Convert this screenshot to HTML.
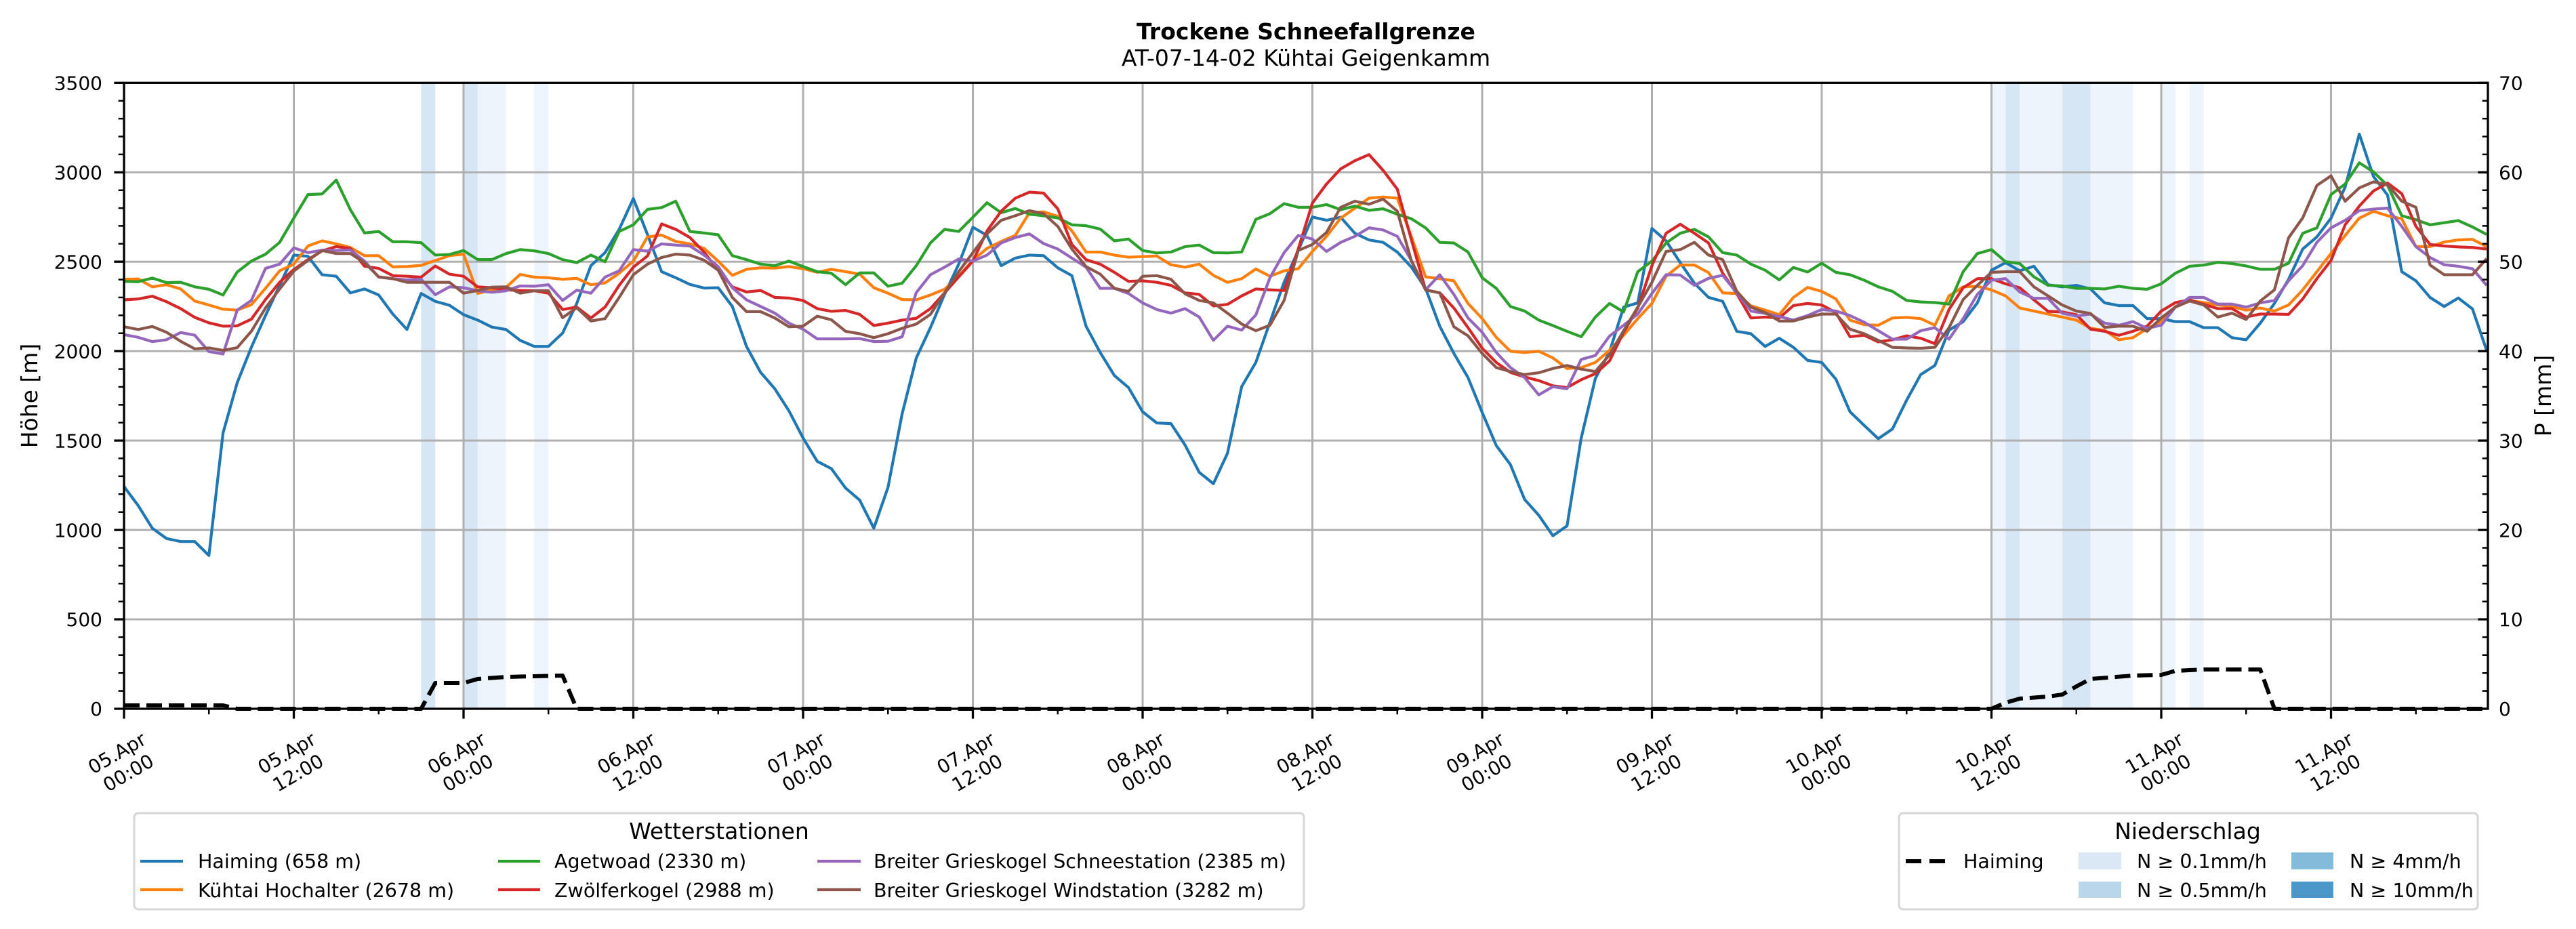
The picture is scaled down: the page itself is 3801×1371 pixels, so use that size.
<!DOCTYPE html>
<html>
<head>
<meta charset="utf-8">
<style>
  html, body { margin: 0; padding: 0; background: #ffffff; }
  body { width: 3801px; height: 1371px; overflow: hidden; }
  svg { display: block; }
  text { font-family: "DejaVu Sans", "Liberation Sans", sans-serif; fill: #000; }
</style>
</head>
<body>
<svg width="3801" height="1371" viewBox="0 0 3801 1371" xmlns="http://www.w3.org/2000/svg">
  <rect x="0" y="0" width="3801" height="1371" fill="#ffffff"/>

  <!-- Titles -->
  <text x="1927" y="58" font-size="33" font-weight="bold" text-anchor="middle">Trockene Schneefallgrenze</text>
  <text x="1927" y="97" font-size="33" text-anchor="middle">AT-07-14-02 Kühtai Geigenkamm</text>

  <!-- Precipitation spans -->
  <g fill="#edf4fb">
    <rect x="704.875" y="122.3" width="41.75" height="923.7"/>
    <rect x="788.375" y="122.3" width="20.875" height="923.7"/>
    <rect x="2938.5" y="122.3" width="20.875" height="923.7"/>
    <rect x="2980.25" y="122.3" width="62.625" height="923.7"/>
    <rect x="3084.625" y="122.3" width="62.625" height="923.7"/>
    <rect x="3189" y="122.3" width="20.875" height="923.7"/>
    <rect x="3230.75" y="122.3" width="20.875" height="923.7"/>
  </g>
  <g fill="#d7e6f4">
    <rect x="621.375" y="122.3" width="20.875" height="923.7"/>
    <rect x="684" y="122.3" width="20.875" height="923.7"/>
    <rect x="2959.375" y="122.3" width="20.875" height="923.7"/>
    <rect x="3042.875" y="122.3" width="41.75" height="923.7"/>
  </g>

  <!-- Grid -->
  <g stroke="#b0b0b0" stroke-width="3" fill="none">
    <path d="M183,914 H3671 M183,782.1 H3671 M183,650.1 H3671 M183,518.2 H3671 M183,386.2 H3671 M183,254.3 H3671"/>
    <path d="M433.5,122.3 V1046 M684,122.3 V1046 M934.5,122.3 V1046 M1185,122.3 V1046 M1435.5,122.3 V1046 M1686,122.3 V1046 M1936.5,122.3 V1046 M2187,122.3 V1046 M2437.5,122.3 V1046 M2688,122.3 V1046 M2938.5,122.3 V1046 M3189,122.3 V1046 M3439.5,122.3 V1046"/>
  </g>

  <!-- Series -->
  <g transform="translate(183,180) scale(20.875,0.446429)" fill="none" stroke-width="4.2" stroke-linejoin="round">
    <polyline vector-effect="non-scaling-stroke" stroke="#1f77b4" points="0,1205 1,1268 2,1343 3,1377 4,1387 5,1387 6,1433 7,1028 8,862 9,745 10,640 11,540 12,440 13,444 14,505 15,510 16,565 17,552 18,572 19,635 20,686 21,567 22,593 23,606 24,637 25,655 26,678 27,686 28,722 29,742 30,742 31,698 32,600 33,475 34,432 35,355 36,253 37,372 38,495 39,515 40,537 41,549 42,548 43,610 44,742 45,828 46,882 47,955 48,1045 49,1122 50,1146 51,1210 52,1250 53,1343 54,1208 55,965 56,780 57,680 58,570 59,470 60,348 61,375 62,475 63,450 64,440 65,442 66,482 67,508 68,675 69,762 70,838 71,878 72,958 73,995 74,997 75,1068 76,1158 77,1196 78,1095 79,875 80,795 81,662 82,530 83,425 84,314 85,325 86,315 87,368 88,390 89,398 90,430 91,480 92,550 93,675 94,765 95,845 96,960 97,1070 98,1133 99,1248 100,1300 101,1368 102,1335 103,1045 104,848 105,760 106,612 107,598 108,352 109,393 110,465 111,533 112,580 113,593 114,692 115,700 116,742 117,715 118,745 119,788 120,795 121,850 122,958 123,1003 124,1047 125,1015 126,920 127,835 128,805 129,688 130,660 131,598 132,490 133,465 134,492 135,477 136,538 137,545 138,540 139,552 140,598 141,607 142,607 143,650 144,650 145,660 146,660 147,680 148,680 149,713 150,720 151,665 152,600 153,520 154,420 155,380 156,318 157,215 158,40 159,180 160,242 161,495 162,525 163,580 164,610 165,582 166,618 167,755"/>
    <polyline vector-effect="non-scaling-stroke" stroke="#ff7f0e" points="0,520 1,519 2,545 3,538 4,552 5,592 6,605 7,619 8,622 9,604 10,550 11,492 12,470 13,410 14,393 15,403 16,415 17,442 18,442 19,479 20,478 21,474 22,458 23,442 24,437 25,567 26,555 27,547 28,504 29,513 30,515 31,520 32,517 33,538 34,532 35,500 36,460 37,380 38,374 39,395 40,403 41,418 42,460 43,507 44,487 45,482 46,483 47,478 48,485 49,497 50,487 51,495 52,503 53,548 54,566 55,587 56,588 57,572 58,553 59,510 60,457 61,418 62,395 63,375 64,300 65,297 66,312 67,360 68,430 69,430 70,440 71,447 72,445 73,443 74,472 75,480 76,470 77,507 78,530 79,518 80,486 81,510 82,492 83,485 84,428 85,378 86,318 87,285 88,252 89,248 90,252 91,380 92,512 93,518 94,525 95,600 96,650 97,712 98,758 99,762 100,758 101,780 102,815 103,812 104,795 105,755 106,705 107,650 108,600 109,510 110,473 111,473 112,498 113,565 114,567 115,608 116,622 117,637 118,580 119,547 120,560 121,585 122,655 123,670 124,672 125,648 126,646 127,650 128,672 129,575 130,545 131,543 132,555 133,575 134,615 135,625 136,635 137,645 138,655 139,682 140,689 141,720 142,713 143,683 144,660 145,610 146,590 147,597 148,605 149,610 150,622 151,615 152,625 153,605 154,555 155,495 156,435 157,375 158,318 159,295 160,310 161,320 162,412 163,412 164,397 165,390 166,388 167,412"/>
    <polyline vector-effect="non-scaling-stroke" stroke="#2ca02c" points="0,527 1,528 2,516 3,531 4,530 5,545 6,553 7,572 8,496 9,460 10,437 11,398 12,318 13,240 14,238 15,192 16,290 17,367 18,362 19,396 20,396 21,399 22,440 23,438 24,425 25,455 26,455 27,435 28,422 29,426 30,435 31,455 32,465 33,440 34,462 35,362 36,340 37,289 38,283 39,262 40,362 41,367 42,373 43,442 44,455 45,470 46,475 47,460 48,478 49,495 50,500 51,538 52,499 53,499 54,543 55,533 56,475 57,400 58,355 59,362 60,315 61,267 62,300 63,286 64,305 65,310 66,317 67,340 68,343 69,354 70,393 71,387 72,425 73,433 74,430 75,412 76,407 77,432 78,433 79,430 80,322 81,303 82,270 83,282 84,282 85,273 86,290 87,278 88,292 89,287 90,305 91,320 92,350 93,398 94,400 95,430 96,515 97,550 98,610 99,625 100,655 101,673 102,692 103,710 104,645 105,600 106,628 107,495 108,460 109,400 110,368 111,355 112,380 113,432 114,440 115,470 116,490 117,522 118,481 119,496 120,467 121,497 122,505 123,523 124,545 125,560 126,590 127,595 128,597 129,602 130,495 131,435 132,422 133,462 134,468 135,512 136,540 137,542 138,550 139,550 140,552 141,543 142,550 143,553 144,535 145,500 146,477 147,473 148,464 149,468 150,476 151,487 152,487 153,467 154,368 155,350 156,240 157,205 158,135 159,165 160,210 161,310 162,323 163,340 164,333 165,326 166,347 167,372"/>
    <polyline vector-effect="non-scaling-stroke" stroke="#d62728" points="0,588 1,585 2,576 3,594 4,617 5,646 6,664 7,675 8,674 9,652 10,587 11,530 12,488 13,455 14,426 15,412 16,418 17,477 18,484 19,508 20,510 21,513 22,476 23,503 24,510 25,545 26,548 27,555 28,557 29,558 30,566 31,620 32,612 33,648 34,612 35,540 36,480 37,443 38,337 39,355 40,382 41,430 42,490 43,545 44,562 45,557 46,580 47,582 48,590 49,617 50,626 51,623 52,636 53,673 54,665 55,655 56,649 57,617 58,565 59,512 60,460 61,360 62,295 63,252 64,232 65,235 66,287 67,405 68,455 69,470 70,497 71,527 72,525 73,530 74,540 75,565 76,570 77,608 78,603 79,575 80,552 81,555 82,557 83,420 84,268 85,205 86,155 87,128 88,108 89,160 90,222 91,390 92,555 93,565 94,615 95,680 96,748 97,795 98,828 99,843 100,855 101,872 102,878 103,852 104,832 105,790 106,695 107,615 108,475 109,368 110,338 111,368 112,400 113,500 114,568 115,648 116,645 117,648 118,607 119,600 120,605 121,630 122,710 123,705 124,727 125,720 126,707 127,715 128,733 129,620 130,548 131,518 132,518 133,535 134,548 135,588 136,626 137,628 138,637 139,685 140,692 141,705 142,692 143,675 144,625 145,597 146,588 147,603 148,617 149,617 150,645 151,635 152,635 153,636 154,585 155,518 156,458 157,340 158,278 159,228 160,202 161,237 162,345 163,405 164,410 165,413 166,415 167,420"/>
    <polyline vector-effect="non-scaling-stroke" stroke="#9467bd" points="0,703 1,712 2,726 3,720 4,696 5,705 6,759 7,767 8,622 9,590 10,484 11,470 12,416 13,432 14,424 15,425 16,423 17,460 18,513 19,518 20,522 21,520 22,571 23,545 24,548 25,558 26,563 27,558 28,542 29,543 30,538 31,590 32,556 33,566 34,513 35,492 36,422 37,427 38,403 39,407 40,410 41,440 42,478 43,548 44,588 45,610 46,632 47,665 48,685 49,717 50,717 51,717 52,716 53,726 54,725 55,710 56,564 57,505 58,480 59,453 60,460 61,440 62,400 63,382 64,370 65,402 66,420 67,450 68,480 69,550 70,550 71,567 72,598 73,620 74,632 75,617 76,645 77,722 78,675 79,688 80,638 81,515 82,432 83,375 84,387 85,428 86,398 87,378 88,350 89,357 90,378 91,458 92,555 93,505 94,570 95,648 96,695 97,762 98,812 99,845 100,902 101,875 102,882 103,785 104,772 105,708 106,672 107,635 108,567 109,505 110,506 111,540 112,517 113,507 114,565 115,625 116,633 117,643 118,655 119,640 120,620 121,625 122,640 123,662 124,690 125,718 126,718 127,690 128,680 129,718 130,650 131,570 132,523 133,518 134,562 135,583 136,583 137,632 138,642 139,635 140,665 141,672 142,660 143,682 144,672 145,612 146,580 147,580 148,602 149,602 150,612 151,598 152,590 153,525 154,475 155,398 156,350 157,325 158,293 159,288 160,285 161,345 162,412 163,448 164,472 165,477 166,485 167,540"/>
    <polyline vector-effect="non-scaling-stroke" stroke="#8c564b" points="0,677 1,686 2,676 3,695 4,725 5,750 6,747 7,755 8,746 9,692 10,615 11,552 12,493 13,458 14,425 15,435 16,435 17,465 18,512 19,518 20,530 21,530 22,530 23,530 24,566 25,557 26,546 27,545 28,566 29,558 30,558 31,647 32,614 33,658 34,650 35,580 36,505 37,470 38,448 39,437 40,440 41,457 42,490 43,580 44,627 45,627 46,648 47,677 48,675 49,642 50,654 51,692 52,700 53,713 54,700 55,682 56,668 57,636 58,565 59,495 60,432 61,370 62,325 63,310 64,293 65,303 66,345 67,420 68,478 69,503 70,550 71,560 72,510 73,508 74,520 75,568 76,590 77,598 78,632 79,668 80,690 81,672 82,590 83,425 84,405 85,365 86,282 87,262 88,272 89,255 90,295 91,460 92,555 93,565 94,677 95,707 96,765 97,812 98,825 99,835 100,829 101,815 102,805 103,817 104,825 105,770 106,690 107,612 108,530 109,428 110,422 111,398 112,440 113,455 114,560 115,612 116,630 117,658 118,658 119,645 120,635 121,635 122,685 123,700 124,722 125,745 126,747 127,748 128,745 129,680 130,587 131,540 132,497 133,495 134,495 135,545 136,575 137,605 138,625 139,633 140,679 141,675 142,675 143,692 144,648 145,612 146,592 147,605 148,645 149,632 150,653 151,592 152,555 153,383 154,317 155,210 156,178 157,262 158,218 159,198 160,207 161,262 162,282 163,473 164,505 165,505 166,505 167,452"/>
  </g>

  <!-- Haiming precipitation (dashed) -->
  <polyline fill="none" stroke="#000" stroke-width="6" stroke-dasharray="23 10" stroke-linejoin="round"
    points="183,1041 329.1,1041 350,1046 621.4,1046 642.25,1008 684,1008 704.9,1002 746.6,999 788.4,998 830.1,997 851,1046 2938.5,1046 2959.4,1037 2980.25,1031 3022,1028 3042.9,1025 3063.75,1013 3084.6,1002 3147.25,997 3189,996 3209.9,990 3251.6,988 3335.1,988 3356,1046 3669.1,1046"/>

  <!-- Spines -->
  <rect x="183" y="122.3" width="3488" height="923.7" fill="none" stroke="#000" stroke-width="3.3"/>

  <!-- Ticks -->
  <g stroke="#000" fill="none">
    <!-- left major -->
    <path stroke-width="3.3" d="M168.4,1046 h14.6 M168.4,914 h14.6 M168.4,782.1 h14.6 M168.4,650.1 h14.6 M168.4,518.2 h14.6 M168.4,386.2 h14.6 M168.4,254.3 h14.6 M168.4,122.3 h14.6"/>
    <!-- left minor -->
    <path stroke-width="2.5" d="M174.7,1019.6 h8.3 M174.7,993.2 h8.3 M174.7,966.8 h8.3 M174.7,940.4 h8.3 M174.7,887.7 h8.3 M174.7,861.3 h8.3 M174.7,834.9 h8.3 M174.7,808.5 h8.3 M174.7,755.7 h8.3 M174.7,729.3 h8.3 M174.7,702.9 h8.3 M174.7,676.5 h8.3 M174.7,623.7 h8.3 M174.7,597.4 h8.3 M174.7,571 h8.3 M174.7,544.6 h8.3 M174.7,491.8 h8.3 M174.7,465.4 h8.3 M174.7,439 h8.3 M174.7,412.6 h8.3 M174.7,359.8 h8.3 M174.7,333.4 h8.3 M174.7,307.1 h8.3 M174.7,280.7 h8.3 M174.7,227.9 h8.3 M174.7,201.5 h8.3 M174.7,175.1 h8.3 M174.7,148.7 h8.3"/>
    <!-- right major (inward) -->
    <path stroke-width="3.3" d="M3671,1046 h-14.6 M3671,914 h-14.6 M3671,782.1 h-14.6 M3671,650.1 h-14.6 M3671,518.2 h-14.6 M3671,386.2 h-14.6 M3671,254.3 h-14.6 M3671,122.3 h-14.6"/>
    <!-- right minor (inward) -->
    <path stroke-width="2.5" d="M3671,1019.6 h-8.3 M3671,993.2 h-8.3 M3671,966.8 h-8.3 M3671,940.4 h-8.3 M3671,887.7 h-8.3 M3671,861.3 h-8.3 M3671,834.9 h-8.3 M3671,808.5 h-8.3 M3671,755.7 h-8.3 M3671,729.3 h-8.3 M3671,702.9 h-8.3 M3671,676.5 h-8.3 M3671,623.7 h-8.3 M3671,597.4 h-8.3 M3671,571 h-8.3 M3671,544.6 h-8.3 M3671,491.8 h-8.3 M3671,465.4 h-8.3 M3671,439 h-8.3 M3671,412.6 h-8.3 M3671,359.8 h-8.3 M3671,333.4 h-8.3 M3671,307.1 h-8.3 M3671,280.7 h-8.3 M3671,227.9 h-8.3 M3671,201.5 h-8.3 M3671,175.1 h-8.3 M3671,148.7 h-8.3"/>
    <!-- x major -->
    <path stroke-width="3.3" d="M183,1046 v14.6 M433.5,1046 v14.6 M684,1046 v14.6 M934.5,1046 v14.6 M1185,1046 v14.6 M1435.5,1046 v14.6 M1686,1046 v14.6 M1936.5,1046 v14.6 M2187,1046 v14.6 M2437.5,1046 v14.6 M2688,1046 v14.6 M2938.5,1046 v14.6 M3189,1046 v14.6 M3439.5,1046 v14.6"/>
    <!-- x minor -->
    <path stroke-width="2.5" d="M308.25,1046 v8.3 M558.75,1046 v8.3 M809.25,1046 v8.3 M1059.75,1046 v8.3 M1310.25,1046 v8.3 M1560.75,1046 v8.3 M1811.25,1046 v8.3 M2061.75,1046 v8.3 M2312.25,1046 v8.3 M2562.75,1046 v8.3 M2813.25,1046 v8.3 M3063.75,1046 v8.3 M3314.25,1046 v8.3 M3564.75,1046 v8.3"/>
  </g>

  <!-- Left tick labels -->
  <g font-size="28" text-anchor="end">
    <text x="151" y="1056.2">0</text>
    <text x="151" y="924.2">500</text>
    <text x="151" y="792.3">1000</text>
    <text x="151" y="660.3">1500</text>
    <text x="151" y="528.4">2000</text>
    <text x="151" y="396.4">2500</text>
    <text x="151" y="264.5">3000</text>
    <text x="151" y="132.5">3500</text>
  </g>
  <!-- Right tick labels -->
  <g font-size="28" text-anchor="start">
    <text x="3687" y="1056.2">0</text>
    <text x="3687" y="924.2">10</text>
    <text x="3687" y="792.3">20</text>
    <text x="3687" y="660.3">30</text>
    <text x="3687" y="528.4">40</text>
    <text x="3687" y="396.4">50</text>
    <text x="3687" y="264.5">60</text>
    <text x="3687" y="132.5">70</text>
  </g>

  <!-- Axis labels -->
  <text font-size="33" text-anchor="middle" transform="translate(55,584) rotate(-90)">Höhe [m]</text>
  <text font-size="33" text-anchor="middle" transform="translate(3764,584) rotate(-90)">P [mm]</text>

  <!-- X tick labels -->
  <g font-size="28" text-anchor="middle">
    <g transform="translate(181,1126) rotate(-30)"><text><tspan x="0" y="-7">05.Apr</tspan><tspan x="0" y="26.6">00:00</tspan></text></g>
    <g transform="translate(431.5,1126) rotate(-30)"><text><tspan x="0" y="-7">05.Apr</tspan><tspan x="0" y="26.6">12:00</tspan></text></g>
    <g transform="translate(682,1126) rotate(-30)"><text><tspan x="0" y="-7">06.Apr</tspan><tspan x="0" y="26.6">00:00</tspan></text></g>
    <g transform="translate(932.5,1126) rotate(-30)"><text><tspan x="0" y="-7">06.Apr</tspan><tspan x="0" y="26.6">12:00</tspan></text></g>
    <g transform="translate(1183,1126) rotate(-30)"><text><tspan x="0" y="-7">07.Apr</tspan><tspan x="0" y="26.6">00:00</tspan></text></g>
    <g transform="translate(1433.5,1126) rotate(-30)"><text><tspan x="0" y="-7">07.Apr</tspan><tspan x="0" y="26.6">12:00</tspan></text></g>
    <g transform="translate(1684,1126) rotate(-30)"><text><tspan x="0" y="-7">08.Apr</tspan><tspan x="0" y="26.6">00:00</tspan></text></g>
    <g transform="translate(1934.5,1126) rotate(-30)"><text><tspan x="0" y="-7">08.Apr</tspan><tspan x="0" y="26.6">12:00</tspan></text></g>
    <g transform="translate(2185,1126) rotate(-30)"><text><tspan x="0" y="-7">09.Apr</tspan><tspan x="0" y="26.6">00:00</tspan></text></g>
    <g transform="translate(2435.5,1126) rotate(-30)"><text><tspan x="0" y="-7">09.Apr</tspan><tspan x="0" y="26.6">12:00</tspan></text></g>
    <g transform="translate(2686,1126) rotate(-30)"><text><tspan x="0" y="-7">10.Apr</tspan><tspan x="0" y="26.6">00:00</tspan></text></g>
    <g transform="translate(2936.5,1126) rotate(-30)"><text><tspan x="0" y="-7">10.Apr</tspan><tspan x="0" y="26.6">12:00</tspan></text></g>
    <g transform="translate(3187,1126) rotate(-30)"><text><tspan x="0" y="-7">11.Apr</tspan><tspan x="0" y="26.6">00:00</tspan></text></g>
    <g transform="translate(3437.5,1126) rotate(-30)"><text><tspan x="0" y="-7">11.Apr</tspan><tspan x="0" y="26.6">12:00</tspan></text></g>
  </g>

  <!-- Legend 1: Wetterstationen -->
  <rect x="198" y="1200" width="1726" height="142" rx="6" ry="6" fill="#ffffff" stroke="#d6d6d6" stroke-width="3"/>
  <text x="1061" y="1238" font-size="33" text-anchor="middle">Wetterstationen</text>
  <g stroke-width="4.2" fill="none">
    <path d="M207,1271 H270" stroke="#1f77b4"/>
    <path d="M207,1313 H270" stroke="#ff7f0e"/>
    <path d="M735,1271 H797" stroke="#2ca02c"/>
    <path d="M735,1313 H797" stroke="#d62728"/>
    <path d="M1206,1271 H1270" stroke="#9467bd"/>
    <path d="M1206,1313 H1270" stroke="#8c564b"/>
  </g>
  <g font-size="28.5">
    <text x="292" y="1281">Haiming (658 m)</text>
    <text x="292" y="1324">Kühtai Hochalter (2678 m)</text>
    <text x="818" y="1281">Agetwoad (2330 m)</text>
    <text x="818" y="1324">Zwölferkogel (2988 m)</text>
    <text x="1289" y="1281">Breiter Grieskogel Schneestation (2385 m)</text>
    <text x="1289" y="1324">Breiter Grieskogel Windstation (3282 m)</text>
  </g>

  <!-- Legend 2: Niederschlag -->
  <rect x="2802" y="1200" width="854" height="142" rx="6" ry="6" fill="#ffffff" stroke="#d6d6d6" stroke-width="3"/>
  <text x="3228" y="1238" font-size="33" text-anchor="middle">Niederschlag</text>
  <path d="M2812,1271 H2835 M2847,1271 H2870" stroke="#000" stroke-width="6" fill="none"/>
  <rect x="3067" y="1258" width="63" height="25" fill="#dae8f5"/>
  <rect x="3067" y="1301" width="63" height="24" fill="#bad6eb"/>
  <rect x="3381" y="1258" width="62" height="25" fill="#84bbdb"/>
  <rect x="3381" y="1301" width="62" height="24" fill="#4b97c9"/>
  <g font-size="28.5">
    <text x="2897" y="1281">Haiming</text>
    <text x="3153" y="1281">N ≥ 0.1mm/h</text>
    <text x="3153" y="1324">N ≥ 0.5mm/h</text>
    <text x="3467" y="1281">N ≥ 4mm/h</text>
    <text x="3467" y="1324">N ≥ 10mm/h</text>
  </g>
</svg>
</body>
</html>
